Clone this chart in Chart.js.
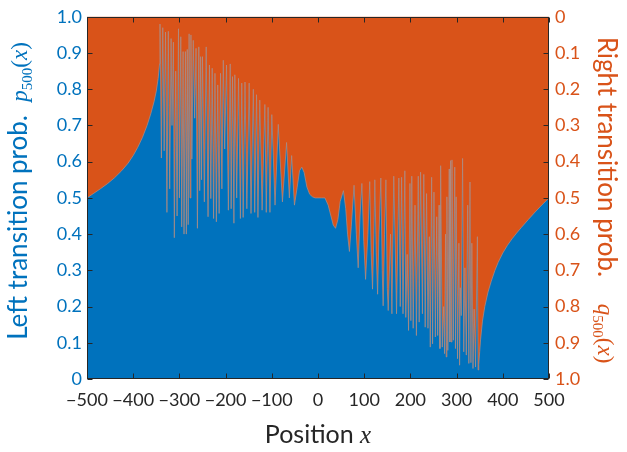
<!DOCTYPE html>
<html>
<head>
<meta charset="utf-8">
<script src="https://cdn.jsdelivr.net/npm/chart.js@4.4.1/dist/chart.umd.min.js"></script>
<style>
  html, body { margin: 0; padding: 0; background: #fff; }
  canvas { display: block; }
</style>
</head>
<body>
<canvas id="probChart" width="627" height="452"></canvas>
<script>
/* ── Data ─────────────────────────────────────── */
// smooth left tail
const tailLeftX = [-500, -485, -470, -455, -440, -425, -411, -400, -390, -380, -370, -362, -355, -350, -346, -343];
const tailLeftP = [0.500, 0.513, 0.526, 0.540, 0.556, 0.575, 0.596, 0.617, 0.640, 0.667, 0.700, 0.732, 0.765, 0.795, 0.830, 0.870];

// oscillating burst, left of the centre
const burstLeftX = [
  -342, -339, -336, -333, -330, -327, -324, -321, -318, -316,
  -313, -311, -308, -305, -302, -300, -297, -295, -292, -290,
  -287, -285, -283, -281, -279, -277, -275, -273, -270, -267,
  -264, -261, -258, -256, -254, -252, -250, -246, -242, -238,
  -235, -232, -229, -226, -223, -220, -217, -214, -211, -208,
  -205, -202, -198, -194,
];
const burstLeftP = [
  0.980, 0.610, 0.970, 0.630, 0.958, 0.460, 0.960, 0.525, 0.940, 0.700,
  0.930, 0.390, 0.850, 0.450, 0.967, 0.500, 0.945, 0.420, 0.904, 0.400,
  0.904, 0.400, 0.910, 0.426, 0.953, 0.500, 0.950, 0.607, 0.935, 0.720,
  0.913, 0.416, 0.917, 0.520, 0.890, 0.550, 0.890, 0.489, 0.917, 0.448,
  0.867, 0.498, 0.858, 0.443, 0.844, 0.434, 0.812, 0.457, 0.844, 0.525,
  0.880, 0.635, 0.867, 0.466,
];

// regular ripples towards the centre
const rippleX = [
  -190, -188, -185, -182, -180, -176, -172, -168, -165, -162,
  -158, -154, -149, -145, -140, -137, -133, -130, -126, -121,
  -115, -112, -108, -104, -100,  -93,  -86,  -77,  -68,  -62,
   -57,  -51,  -45,  -40,  -35,  -30,  -24,  -18,  -12,   -6,
     0,    8,   15,
];
const rippleP = [
  0.870, 0.470, 0.835, 0.430, 0.840, 0.500, 0.830, 0.443, 0.817, 0.446,
  0.820, 0.470, 0.817, 0.457, 0.800, 0.460, 0.785, 0.446, 0.770, 0.466,
  0.758, 0.460, 0.750, 0.460, 0.730, 0.480, 0.703, 0.489, 0.653, 0.500,
  0.617, 0.480, 0.530, 0.575, 0.585, 0.570, 0.530, 0.510, 0.503, 0.500,
  0.500, 0.500, 0.500,
];

// ripples right of the centre
const rippleRightX = [
   22,  28,  33,  38,  43,  48,  55,  60,  64,  68,
   72,  78,  83,  87,  91,  95,  99, 103, 108, 112,
  115, 118, 121, 123, 126, 129, 132, 136, 139, 141,
  144, 147, 150, 152, 157, 160, 164, 170, 175, 178,
  181, 184,
];
const rippleRightP = [
  0.480, 0.450, 0.425, 0.416, 0.440, 0.490, 0.520, 0.470, 0.400, 0.352,
  0.420, 0.535, 0.400, 0.307, 0.450, 0.540, 0.380, 0.275, 0.400, 0.545,
  0.350, 0.248, 0.400, 0.550, 0.350, 0.234, 0.400, 0.555, 0.300, 0.202,
  0.400, 0.550, 0.250, 0.189, 0.400, 0.180, 0.560, 0.180, 0.555, 0.200,
  0.557, 0.180,
];

// oscillating burst, right side
const burstRightX = [
  188, 190, 193, 196, 199, 201, 203, 206, 210, 213,
  217, 219, 222, 226, 229, 232, 235, 238, 241, 243,
  246, 248, 251, 254, 257, 259, 262, 264, 265.5, 269,
  272, 274, 276, 277.5, 279, 281, 284, 285.5, 287, 288.5,
  290, 293, 296, 297.5, 299, 302, 305, 306.5, 308, 310,
  313, 315.5, 318, 321, 324, 326.5, 329, 331, 333, 335.5,
  338, 341, 345, 346.5,
];
const burstRightP = [
  0.575, 0.170, 0.344, 0.134, 0.540, 0.161, 0.560, 0.140, 0.480, 0.120,
  0.560, 0.157, 0.571, 0.180, 0.565, 0.143, 0.512, 0.140, 0.393, 0.088,
  0.557, 0.097, 0.516, 0.116, 0.448, 0.120, 0.480, 0.084, 0.589, 0.088,
  0.200, 0.070, 0.400, 0.061, 0.503, 0.079, 0.580, 0.102, 0.603, 0.102,
  0.605, 0.107, 0.585, 0.084, 0.503, 0.056, 0.375, 0.038, 0.252, 0.175,
  0.609, 0.075, 0.307, 0.066, 0.480, 0.043, 0.544, 0.045, 0.375, 0.029,
  0.193, 0.033, 0.393, 0.025,
];

// smooth right tail
const tailRightX = [348, 350, 352, 356, 361, 368, 375, 383, 390, 400, 410, 420, 430, 440, 455, 470, 485, 500];
const tailRightP = [0.040, 0.075, 0.110, 0.160, 0.200, 0.240, 0.270, 0.300, 0.322, 0.348, 0.369, 0.387, 0.403, 0.418, 0.440, 0.461, 0.481, 0.500];

// axes
const xTicks      = [-500, -400, -300, -200, -100, 0, 100, 200, 300, 400, 500];
const xTickLabels = ['\u2212500', '\u2212400', '\u2212300', '\u2212200', '\u2212100', '0', '100', '200', '300', '400', '500'];
const yTicks      = [0, 0.1, 0.2, 0.3, 0.4, 0.5, 0.6, 0.7, 0.8, 0.9, 1.0];
const yTickLabels = ['0', '0.1', '0.2', '0.3', '0.4', '0.5', '0.6', '0.7', '0.8', '0.9', '1.0'];

/* ── Colours ──────────────────────────────────── */
const C_BLUE   = '#0072BD';
const C_ORANGE = '#D95319';
const C_EDGE   = '#ad8f88';
const C_AXIS   = '#262626';

/* ── Build points ─────────────────────────────── */
const allX = [].concat(tailLeftX, burstLeftX, rippleX, rippleRightX, burstRightX, tailRightX);
const allP = [].concat(tailLeftP, burstLeftP, rippleP, rippleRightP, burstRightP, tailRightP);
const points = allX.map((x, i) => ({ x, y: allP[i] }));

/* ── Frame, inner ticks, titles ───────────────── */
function drawRich(ctx, parts, x, y, angle) {
  ctx.save();
  ctx.translate(x, y);
  ctx.rotate(angle);
  ctx.textBaseline = 'alphabetic';
  ctx.textAlign = 'left';
  let total = 0;
  parts.forEach(p => { ctx.font = p.font; total += ctx.measureText(p.text).width; });
  let cx = -total / 2;
  parts.forEach(p => {
    ctx.font = p.font;
    ctx.fillStyle = p.color;
    ctx.fillText(p.text, cx, p.dy || 0);
    cx += ctx.measureText(p.text).width;
  });
  ctx.restore();
}

const framePlugin = {
  id: 'frame',
  beforeDatasetsDraw(chart) {
    const { ctx, chartArea: a } = chart;
    ctx.save();
    ctx.fillStyle = C_ORANGE;
    ctx.fillRect(a.left, a.top, a.right - a.left, a.bottom - a.top);
    ctx.restore();
  },
  afterDatasetsDraw(chart) {
    const { ctx, chartArea: a, scales } = chart;
    const L = Math.round(a.left) + 0.5, R = Math.round(a.right) - 0.5;
    const T = Math.round(a.top) + 0.5, B = Math.round(a.bottom) - 0.5;
    ctx.save();
    ctx.strokeStyle = C_AXIS;
    ctx.lineWidth = 1;
    ctx.strokeRect(L, T, R - L, B - T);
    const len = 5;
    ctx.beginPath();
    xTicks.forEach(v => {
      const px = Math.round(scales.x.getPixelForValue(v)) + 0.5;
      ctx.moveTo(px, B); ctx.lineTo(px, B - len);
      ctx.moveTo(px, T); ctx.lineTo(px, T + len);
    });
    yTicks.forEach(v => {
      const py = Math.round(scales.y.getPixelForValue(v)) + 0.5;
      ctx.moveTo(L, py); ctx.lineTo(L + len, py);
      ctx.moveTo(R, py); ctx.lineTo(R - len, py);
    });
    ctx.stroke();
    ctx.restore();
  },
  afterDraw(chart) {
    const { ctx } = chart;
    const sans  = '"Lato", sans-serif';
    const serif = '"Liberation Serif", serif';
    // left title
    drawRich(ctx, [
      { text: 'Left transition prob.  ', font: '26px ' + sans, color: C_BLUE },
      { text: 'p', font: 'italic 23px ' + serif, color: C_BLUE },
      { text: '500', font: '15px ' + serif, color: C_BLUE, dy: 5 },
      { text: '(', font: '23px ' + serif, color: C_BLUE },
      { text: 'x', font: 'italic 23px ' + serif, color: C_BLUE },
      { text: ')', font: '23px ' + serif, color: C_BLUE },
    ], 27, 191, -Math.PI / 2);
    // right title
    drawRich(ctx, [
      { text: 'Right transition prob.    ', font: '26px ' + sans, color: C_ORANGE },
      { text: 'q', font: 'italic 23px ' + serif, color: C_ORANGE },
      { text: '500', font: '15px ' + serif, color: C_ORANGE, dy: 5 },
      { text: '(', font: '23px ' + serif, color: C_ORANGE },
      { text: 'x', font: 'italic 23px ' + serif, color: C_ORANGE },
      { text: ')', font: '23px ' + serif, color: C_ORANGE },
    ], 598, 200, Math.PI / 2);
    // x title
    drawRich(ctx, [
      { text: 'Position ', font: '25px ' + sans, color: C_AXIS },
      { text: 'x', font: 'italic 25px ' + serif, color: C_AXIS },
    ], 318, 443, 0);
  },
};

/* ── Chart ────────────────────────────────────── */
const tickFont = { family: 'Lato', size: 18 };

new Chart(document.getElementById('probChart').getContext('2d'), {
  type: 'line',
  data: {
    datasets: [{
      label: 'p500(x)',
      data: points,
      borderColor: C_EDGE,
      borderWidth: 0.7,
      backgroundColor: C_BLUE,
      fill: 'origin',
      pointRadius: 0,
      tension: 0,
      yAxisID: 'y',
    }],
  },
  options: {
    responsive: false,
    animation: false,
    events: [],
    layout: { padding: { top: 13, left: 0, right: 0, bottom: 0 } },
    plugins: { legend: { display: false }, tooltip: { enabled: false } },
    scales: {
      x: {
        type: 'linear', position: 'bottom', min: -500, max: 500,
        afterBuildTicks: s => { s.ticks = xTicks.map(v => ({ value: v })); },
        afterFit: s => { s.height = 73; },
        ticks: {
          callback: (v, i) => xTickLabels[i],
          font: tickFont, color: C_AXIS, padding: 10,
          maxRotation: 0, autoSkip: false,
        },
        grid: { display: false, drawTicks: false },
        border: { display: false },
      },
      y: {
        type: 'linear', position: 'left', min: 0, max: 1,
        afterBuildTicks: s => { s.ticks = yTicks.map(v => ({ value: v })); },
        afterFit: s => { s.width = 87; },
        ticks: {
          callback: (v, i) => yTickLabels[i],
          font: tickFont, color: C_BLUE, padding: 5, autoSkip: false,
        },
        grid: { display: false, drawTicks: false },
        border: { display: false },
      },
      y2: {
        type: 'linear', position: 'right', min: 0, max: 1, reverse: true,
        afterBuildTicks: s => { s.ticks = yTicks.map(v => ({ value: v })); },
        afterFit: s => { s.width = 78; },
        ticks: {
          callback: (v, i) => yTickLabels[i],
          font: tickFont, color: C_ORANGE, padding: 6, autoSkip: false,
        },
        grid: { display: false, drawTicks: false },
        border: { display: false },
      },
    },
  },
  plugins: [framePlugin],
});
</script>
</body>
</html>
